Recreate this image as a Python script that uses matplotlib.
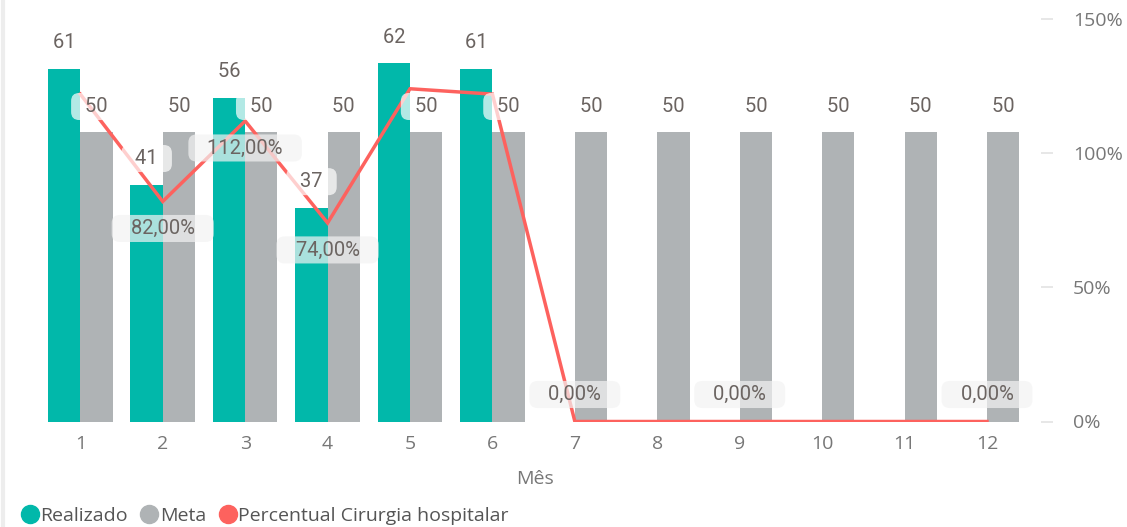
import matplotlib
matplotlib.use('Agg')
import matplotlib.pyplot as plt
from matplotlib.lines import Line2D
import numpy as np

# ---------------- data ----------------
months = [1, 2, 3, 4, 5, 6, 7, 8, 9, 10, 11, 12]
month_labels = ['1', '2', '3', '4', '5', '6', '7', '8', '9', '10', '11', '12']
realizado = [61, 41, 56, 37, 62, 61, None, None, None, None, None, None]
meta = [50, 50, 50, 50, 50, 50, 50, 50, 50, 50, 50, 50]
percentual = [122, 82, 112, 74, 124, 122, 0, 0, 0, 0, 0, 0]
pct_labels_shown = [2, 3, 4, 7, 9, 12]
pct_ticks = [0, 50, 100, 150]
series_names = ['Realizado', 'Meta', 'Percentual Cirurgia hospitalar']

# ---------------- style ----------------
TEAL = '#01B8AA'
GRAY = '#AFB3B5'
RED = '#FD625E'
LABEL_COL = '#6B6461'
AXIS_COL = '#777777'
LABEL_FONT = 'Roboto'
AXIS_FONT = 'Open Sans'

W, H = 1127, 527
fig = plt.figure(figsize=(W / 100, H / 100), dpi=100)

# pixel layout
x_left, x_right = 30, 1041
y_base, y_top = 421.5, 19
x_first, x_last = 80.3, 987
unit = (x_last - x_first) / 11.0
px_per_val = 5.78

ax = fig.add_axes([x_left / W, (H - y_base) / H, (x_right - x_left) / W, (y_base - y_top) / H])
ax.set_xlim(1 - (x_first - x_left) / unit, 12 + (x_right - x_last) / unit)
ax.set_ylim(0, (y_base - y_top) / px_per_val)

bw = 32.3 / unit
m = np.array(months, dtype=float)
r_vals = np.array([np.nan if v is None else v for v in realizado], dtype=float)
ax.bar(m - bw / 2, r_vals, width=bw, color=TEAL, zorder=2, linewidth=0)
ax.bar(m + bw / 2, meta, width=bw, color=GRAY, zorder=2, linewidth=0)

for s in ax.spines.values():
    s.set_visible(False)
ax.set_xticks(months)
ax.set_xticklabels(month_labels)
ax.tick_params(axis='x', length=0, pad=10, labelsize=14, labelcolor=AXIS_COL)
for t in ax.get_xticklabels():
    t.set_fontfamily(AXIS_FONT)
ax.set_xlabel('Mês', fontsize=14, color=AXIS_COL, family=AXIS_FONT, labelpad=12)

# right axis / line
ax2 = ax.twinx()
ax.tick_params(axis='y', left=False, right=False, labelleft=False, labelright=False)
ax2.set_ylim(0, 150)
for s in ax2.spines.values():
    s.set_visible(False)
ax2.set_yticks(pct_ticks)
ax2.set_yticklabels([f'{p}%' for p in pct_ticks])
ax2.tick_params(axis='y', direction='out', length=8.6, width=1.2, color='#E3E3E3',
                pad=14.4, labelsize=14, labelcolor=AXIS_COL, left=False, labelleft=False)
for t in ax2.get_yticklabels():
    t.set_fontfamily(AXIS_FONT)
ax2.plot(m, percentual, color=RED, lw=2.5, zorder=3, solid_joinstyle='miter')

off = 26 * 0.72  # 26 px in points

def box_label(txt, x, y, dy, fc, alpha, spaces):
    sp = '\u00a0' * spaces
    ax2.annotate(sp + txt + sp, xy=(x, y), xycoords=ax.transData,
                 xytext=(0, dy), textcoords='offset points',
                 ha='center', va='center', fontsize=14.5, family=LABEL_FONT,
                 color=LABEL_COL, zorder=5,
                 bbox=dict(boxstyle='round,pad=0.2,rounding_size=0.4',
                           fc=fc, ec='none', alpha=alpha))

for x, v in zip(months, realizado):
    if v is not None:
        box_label(str(v), x - bw / 2, v, off, 'white', 0.7, 2)
for x, v in zip(months, meta):
    box_label(str(v), x + bw / 2, v, off, 'white', 0.7, 2)

for x, p in zip(months, percentual):
    if x in pct_labels_shown:
        dy = -27 * 0.72 if p > 0 else 27 * 0.72
        y_data = p * ((y_base - y_top) / px_per_val) / 150.0
        box_label(f'{p:.2f}%'.replace('.', ','), x, y_data, dy, '#F3F3F3', 0.7, 3)

# legend
handles = [Line2D([], [], marker='o', ls='none', markersize=13, color=c)
           for c in (TEAL, GRAY, RED)]
leg = fig.legend(handles, series_names, loc='lower left', bbox_to_anchor=(0.016, 0.0),
                 ncol=3, frameon=False, handletextpad=0.05, columnspacing=0.6,
                 handlelength=1.0, borderaxespad=0, borderpad=0.1,
                 prop={'family': AXIS_FONT, 'size': 14})
for t in leg.get_texts():
    t.set_color('#555555')

# card left border
fig.add_artist(Line2D([2.5 / W, 2.5 / W], [0, 1], color='#EDEDED', lw=3))

fig.savefig('out.png', dpi=100)
